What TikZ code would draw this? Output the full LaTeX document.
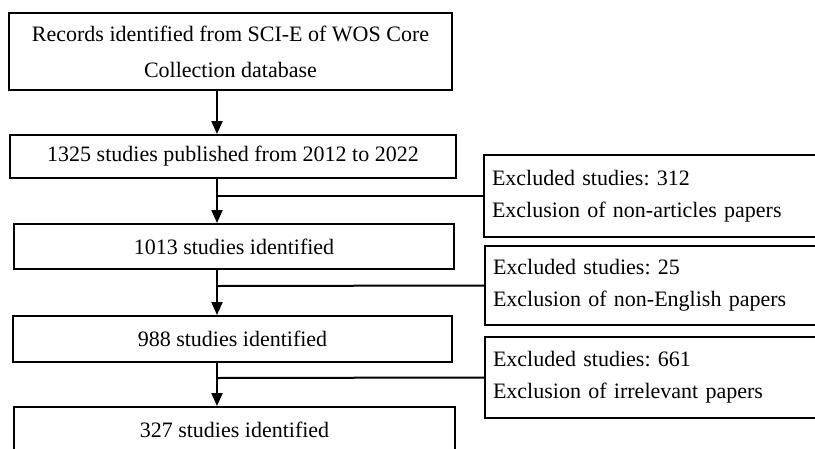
\documentclass[tikz,border=0pt]{standalone}
\usepackage{fontspec}
\setmainfont{Liberation Serif}
\usetikzlibrary{arrows.meta}
\frenchspacing
\begin{document}
\begin{tikzpicture}[x=1pt,y=-1pt,
  box/.style={draw,line width=2pt,rectangle,inner sep=0pt,align=center,
    font=\fontsize{22}{36}\selectfont},
  exbox/.style={draw,line width=2pt,rectangle,inner xsep=8pt,inner ysep=0pt,
    text width=330pt,align=left,font=\fontsize{22}{32}\selectfont},
  flow/.style={line width=2pt,-{Triangle[length=13pt,width=11pt]}},
  link/.style={line width=2pt}]
\clip (0,0) rectangle (815,448);
\node[box,minimum width=443pt,minimum height=77pt] (b1) at (230.5,51.5)
  {Records identified from SCI-E of WOS Core\\Collection database};
\node[box,minimum width=446pt,minimum height=43pt] (b2) at (233,156.5)
  {1325 studies published from 2012 to 2022};
\node[box,minimum width=440pt,minimum height=45pt] (b3) at (234,246.5)
  {1013 studies identified};
\node[box,minimum width=439pt,minimum height=46pt] (b4) at (232.5,339)
  {988 studies identified};
\node[box,minimum width=441pt,minimum height=46pt] (b5) at (234.5,430)
  {327 studies identified};
\node[exbox,minimum height=82pt,anchor=west] (e1) at (483,196)
  {Excluded studies: 312\\Exclusion of non-articles papers};
\node[exbox,minimum height=79pt,anchor=west] (e2) at (484,285.5)
  {Excluded studies: 25\\Exclusion of non-English papers};
\node[exbox,minimum height=81pt,anchor=west] (e3) at (484,377.5)
  {Excluded studies: 661\\Exclusion of irrelevant papers};
\coordinate (ax) at (217,0);
\coordinate (j1) at (217,196);
\coordinate (j2) at (217,286);
\coordinate (j3) at (217,378);
\draw[flow] (b1.south -| ax) -- (b2.north -| ax);
\draw[flow] (b2.south -| ax) -- (b3.north -| ax);
\draw[flow] (b3.south -| ax) -- (b4.north -| ax);
\draw[flow] (b4.south -| ax) -- (b5.north -| ax);
\draw[link] (j1) -- (e1.west);
\draw[link] (j2) -- (e2.west);
\draw[link] (j3) -- (e3.west);
\end{tikzpicture}
\end{document}
